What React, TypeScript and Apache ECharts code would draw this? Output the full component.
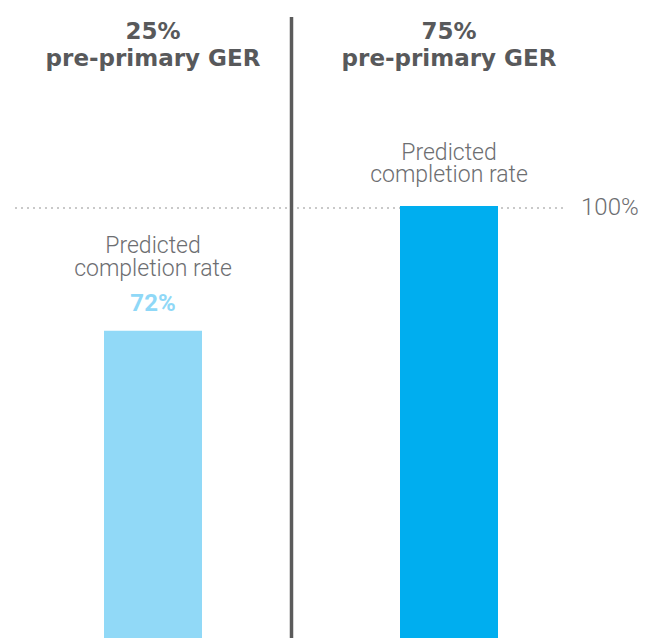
import React, { useEffect, useRef } from 'react';
import * as echarts from 'echarts';

const gerLevels = ['25%', '75%'];
const gerTitle = 'pre-primary GER';
const completionRates = [72, 100];
const showValueLabel = [true, false];
const referenceValue = 100;
const axisMin = 3;
const barColors = ['#91d9f7', '#00aeef'];

export default function App() {
  const ref = useRef<HTMLDivElement>(null);
  useEffect(() => {
    document.body.style.margin = '0';
    const chart = echarts.init(ref.current!, null, { renderer: 'svg' });
    const lightText = { fontFamily: 'Roboto', fontWeight: 300, fontSize: 23, lineHeight: 22.5, color: '#6d6e71' };
    const option: any = {
      animation: false,
      backgroundColor: '#ffffff',
      grid: { left: 5, width: 592, top: 206, bottom: 0 },
      xAxis: [
        { type: 'category', data: gerLevels, position: 'bottom', show: false },
        {
          type: 'category',
          data: gerLevels,
          position: 'top',
          axisLine: { show: false },
          axisTick: { show: false },
          splitLine: { show: false },
          axisLabel: {
            margin: 135,
            formatter: (v: string) => `{a|${v}}\n{b|${gerTitle}}`,
            rich: {
              a: { fontFamily: 'DejaVu Sans', fontWeight: 'bold', fontSize: 23, lineHeight: 26.5, color: '#58595b' },
              b: { fontFamily: 'DejaVu Sans', fontWeight: 'bold', fontSize: 23, lineHeight: 26.5, color: '#58595b' },
            },
          },
        },
      ],
      yAxis: { type: 'value', min: axisMin, max: 100, show: false },
      series: [
        {
          type: 'bar',
          xAxisIndex: 0,
          barWidth: 98,
          data: completionRates.map((v, i) => ({
            value: v,
            itemStyle: { color: barColors[i] },
            label: {
              show: true,
              position: 'top',
              distance: showValueLabel[i] ? 5 : 20,
              formatter: showValueLabel[i]
                ? `{t|Predicted}\n{t|completion rate}\n{v|${v}%}`
                : `{t|Predicted}\n{t|completion rate}`,
              rich: {
                t: lightText,
                v: { fontFamily: 'Roboto', fontWeight: 'bold', fontSize: 24, lineHeight: 46, color: '#8fd8f7' },
              },
            },
          })),
        },
      ],
    };
    chart.setOption(option);
    const y100 = chart.convertToPixel({ yAxisIndex: 0 }, referenceValue) as number;
    chart.setOption({
      graphic: [
        {
          type: 'line',
          shape: { x1: 291.5, y1: 17, x2: 291.5, y2: 638 },
          style: { stroke: '#5b5b5b', lineWidth: 3.5 },
          z: 10,
        },
        {
          type: 'line',
          shape: { x1: 15, y1: y100 + 2, x2: 565, y2: y100 + 2 },
          style: { stroke: '#939393', lineWidth: 1, lineDash: [2, 4] },
          z: -1,
        },
        {
          type: 'text',
          x: 581,
          y: y100 + 1,
          style: {
            text: `${referenceValue}%`,
            fontFamily: 'Roboto',
            fontWeight: 300,
            fontSize: 24,
            fill: '#6d6e71',
            verticalAlign: 'middle',
            align: 'left',
          },
        },
      ],
    });
    return () => chart.dispose();
  }, []);
  return <div ref={ref} style={{ width: 646, height: 638 }} />;
}
